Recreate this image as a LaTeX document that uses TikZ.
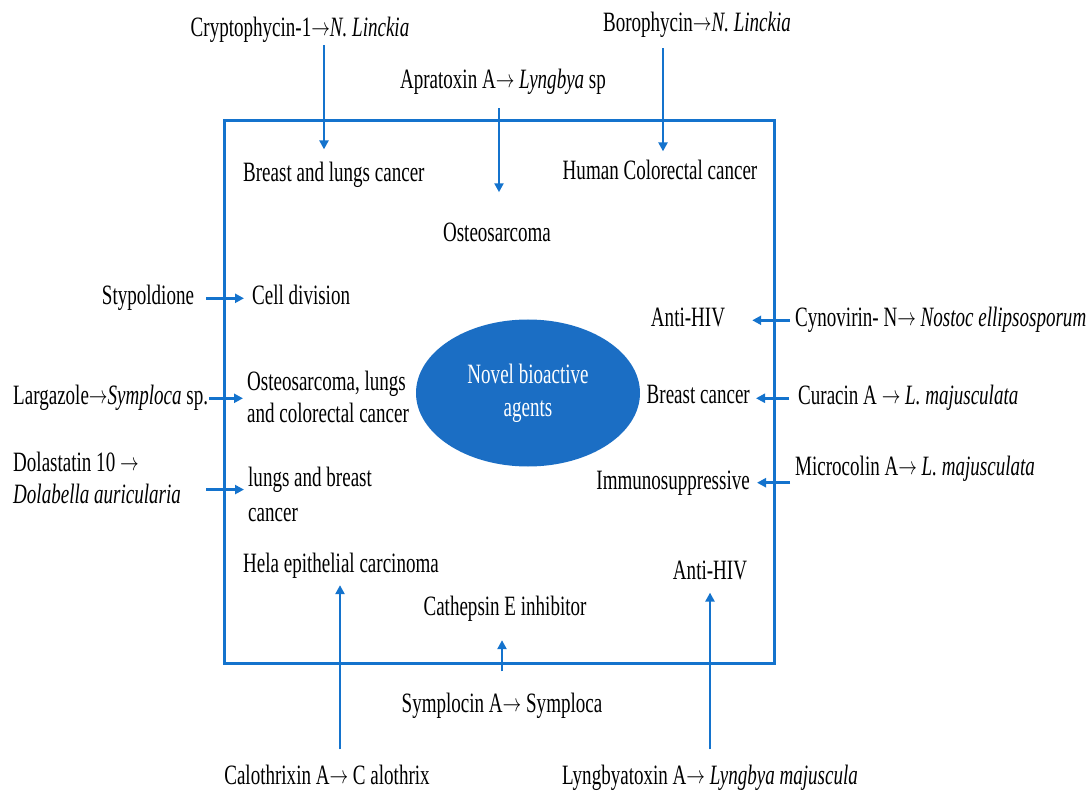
\documentclass[tikz,border=0pt]{standalone}
\usepackage{graphicx}
\usepackage{fontspec}
\setmainfont{Liberation Serif}[FakeStretch=0.68]
\newcommand{\rarr}{\raisebox{1pt}{\scalebox{0.75}[1.0]{$\rightarrow$}}}
\usetikzlibrary{arrows.meta,shapes.geometric}
\definecolor{lineblue}{RGB}{20,115,205}
\definecolor{fillblue}{RGB}{27,110,196}
\begin{document}
\begin{tikzpicture}[x=1pt,y=-1pt,
  lbl/.style={inner sep=0pt, font=\fontsize{28}{32}\selectfont, anchor=base},
  ml/.style={inner sep=0pt, font=\fontsize{28}{32}\selectfont, align=left, anchor=north west},
  arr/.style={draw=lineblue, line width=2.5pt, -{Triangle[width=9pt,length=9pt]}},
  frame/.style={draw=lineblue, line width=3pt, inner sep=0pt}]
\useasboundingbox (0,0) rectangle (1087,791);

% frame and core
\node[frame, minimum width=550pt, minimum height=542pt] (box) at (499,392) {};
\node[ellipse, fill=fillblue, minimum width=224pt, minimum height=147pt, inner sep=0pt,
      text=white, align=center, font=\fontsize{28}{33}\selectfont] (core) at (528,393) {Novel bioactive\\agents};

% top
\node[lbl] (crypto) at (300,37) {Cryptophycin-1\rarr\textit{N. Linckia}};
\node[lbl] (boro) at (697,32) {Borophycin\rarr\textit{N. Linckia}};
\node[lbl] (aprat) at (503,89) {Apratoxin A\rarr\ \textit{Lyngbya} sp};
\node[lbl, anchor=base west] (blc) at (243,182) {Breast and lungs cancer};
\node[lbl] (hcc) at (660,180) {Human Colorectal cancer};
\node[lbl] (osteo) at (497,242) {Osteosarcoma};

\coordinate (xa) at (324,0);
\coordinate (xb) at (499,0);
\coordinate (xc) at (663,0);
\draw[arr, shorten <=2pt, shorten >=13pt] (crypto.south -| xa) -- (blc.north -| xa);
\draw[arr, shorten <=13pt, shorten >=31pt] (aprat.south -| xb) -- (osteo.north -| xb);
\draw[arr, shorten <=10pt, shorten >=9pt] (boro.south -| xc) -- (hcc.north -| xc);

% left
\node[lbl] (styp) at (148,305) {Stypoldione};
\node[lbl, anchor=base west] (cell) at (252,305) {Cell division};
\node[lbl, anchor=base west] (larg) at (13,405) {Largazole\rarr\textit{Symploca} sp.};
\node[ml] (ol) at (247,371) {Osteosarcoma, lungs\\and colorectal cancer};
\node[ml] (dol) at (13,452) {Dolastatin 10 \rarr\\\textit{Dolabella auricularia}};
\node[ml] (lab) at (248,467) {lungs and breast\\[3pt]cancer};

\draw[arr, shorten <=12pt, shorten >=8pt] (styp.east) -- (cell.west |- styp.east);
\draw[arr, shorten <=1pt, shorten >=4pt] (larg.east) -- (ol.west |- larg.east);
\draw[arr, shorten <=25pt, shorten >=4pt] ([yshift=-11.5pt]dol.east) -- ([yshift=-11.5pt]dol.east -| lab.west);

% right
\node[lbl] (ahiv) at (688,327) {Anti-HIV};
\node[lbl, anchor=base west] (cyno) at (795,327) {Cynovirin- N\rarr\ \textit{Nostoc ellipsosporum}};
\node[lbl, anchor=base east] (bc) at (750,404) {Breast cancer};
\node[lbl, anchor=base west] (cura) at (798,405) {Curacin A \rarr\ \textit{L. majusculata}};
\node[lbl, anchor=base west] (micro) at (795,475) {Microcolin A\rarr\ \textit{L. majusculata}};
\node[lbl, anchor=base east] (imm) at (750,489) {Immunosuppressive};

\draw[arr, shorten <=5pt] (cyno.west) -- ([xshift=27pt]ahiv.east |- cyno.west);
\draw[arr, shorten <=9pt] (cura.west) -- ([xshift=6pt]bc.east |- cura.west);
\draw[arr] ([xshift=-5pt]micro.west |- imm.east) -- ([xshift=7pt]imm.east);

% bottom
\node[lbl, anchor=base west] (hela) at (243,572) {Hela epithelial carcinoma};
\node[lbl] (ahiv2) at (710,579) {Anti-HIV};
\node[lbl] (cath) at (505,615) {Cathepsin E inhibitor};
\node[lbl] (sympl) at (502,712) {Symplocin A\rarr\ Symploca};
\node[lbl] (calo) at (327,784) {Calothrixin A\rarr\ C alothrix};
\node[lbl] (lyng) at (710,784) {Lyngbyatoxin A\rarr\ \textit{Lyngbya majuscula}};

\coordinate (xd) at (340,0);
\coordinate (xe) at (502,0);
\draw[arr, shorten <=15pt, shorten >=7pt] (calo.north -| xd) -- (hela.south -| xd);
\draw[arr, shorten <=21pt, shorten >=19pt] (sympl.north -| xe) -- (cath.south -| xe);
\draw[arr, shorten <=15pt, shorten >=13pt] (lyng.north) -- (ahiv2.south);
\end{tikzpicture}
\end{document}
